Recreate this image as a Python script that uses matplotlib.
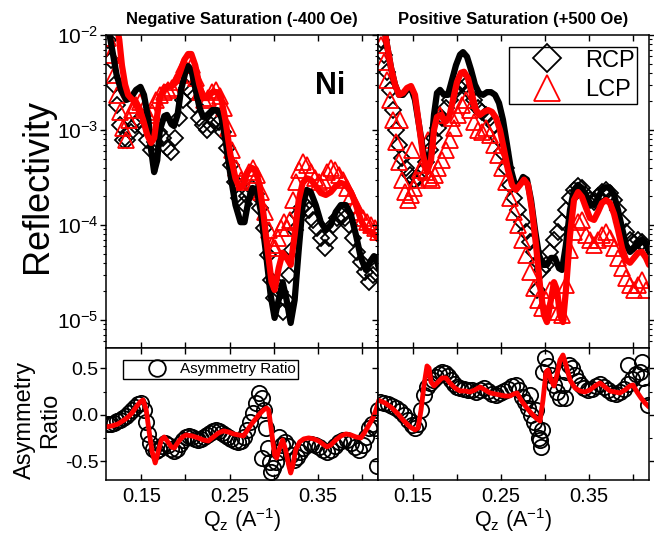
import numpy as np
import matplotlib
matplotlib.use("Agg")
from matplotlib import pyplot as plt
from matplotlib.lines import Line2D
from matplotlib.ticker import LogLocator, NullFormatter, FixedLocator

plt.rcParams['font.family'] = ['Liberation Sans', 'DejaVu Sans']
plt.rcParams['mathtext.fontset'] = 'custom'
plt.rcParams['mathtext.rm'] = 'Liberation Sans'
plt.rcParams['mathtext.it'] = 'Liberation Sans:italic'

#------------------------------------------------------------------------------
# Data (q in A^-1, reflectivity, asymmetry ratio)
#------------------------------------------------------------------------------
# negative saturation: fits
neg_rcp_fit = [(0.113, 1.13e-2), (0.118, 6.2e-3), (0.122, 3.8e-3), (0.127, 2.64e-3), (0.133, 2.07e-3),
               (0.138, 2.17e-3), (0.144, 2.64e-3), (0.149, 2.84e-3), (0.153, 2.34e-3), (0.158, 1.28e-3),
               (0.161, 6.2e-4), (0.1645, 3.6e-4), (0.168, 4.8e-4), (0.171, 1.0e-3), (0.176, 1.4e-3),
               (0.179, 1.44e-3), (0.184, 1.15e-3), (0.187, 1.1e-3), (0.191, 1.44e-3), (0.195, 2.64e-3),
               (0.200, 4.1e-3), (0.203, 4.7e-3), (0.2066, 4.3e-3), (0.211, 2.77e-3), (0.216, 1.7e-3),
               (0.220, 1.37e-3), (0.2248, 1.44e-3), (0.2305, 1.62e-3), (0.236, 1.62e-3), (0.2407, 1.34e-3),
               (0.2452, 7.85e-4), (0.2509, 3.36e-4), (0.2566, 1.62e-4), (0.2623, 1.07e-4), (0.2668, 1.07e-4),
               (0.2714, 1.83e-4), (0.2759, 2.45e-4), (0.2805, 2.34e-4), (0.285, 1.44e-4), (0.2907, 5.45e-5),
               (0.2964, 1.83e-5), (0.3009, 1.05e-5), (0.3055, 1.62e-5), (0.31, 2.5e-5), (0.3145, 1.62e-5),
               (0.3191, 9.3e-6), (0.3236, 1.62e-5), (0.3282, 5.45e-5), (0.3327, 1.62e-4), (0.3373, 2.34e-4),
               (0.3418, 2.22e-4), (0.3475, 1.62e-4), (0.3532, 1.07e-4), (0.3589, 8.86e-5), (0.3645, 1.0e-4),
               (0.3702, 1.37e-4), (0.3759, 1.62e-4), (0.3816, 1.62e-4), (0.3873, 1.28e-4), (0.393, 7.85e-5),
               (0.3986, 4.5e-5), (0.4043, 3.36e-5), (0.4089, 4.1e-5), (0.4134, 4.7e-5), (0.4168, 4.1e-5),
               (0.4191, 3.5e-5)]
neg_lcp_fit = [(0.121, 1.44e-2), (0.125, 8.9e-3), (0.128, 4.8e-3), (0.1316, 3.0e-3), (0.135, 2.34e-3),
               (0.138, 2.17e-3), (0.143, 1.97e-3), (0.1475, 1.7e-3), (0.152, 1.28e-3), (0.1566, 8.9e-4),
               (0.161, 7.3e-4), (0.1645, 8.2e-4), (0.168, 1.44e-3), (0.171, 2.17e-3), (0.176, 2.77e-3),
               (0.1805, 2.9e-3), (0.185, 2.9e-3), (0.1895, 3.2e-3), (0.194, 4.1e-3), (0.1986, 5.45e-3),
               (0.203, 6.3e-3), (0.2066, 6.3e-3), (0.211, 4.8e-3), (0.2157, 3.0e-3), (0.220, 2.17e-3),
               (0.2248, 2.17e-3), (0.2305, 2.5e-3), (0.236, 2.5e-3), (0.2407, 2.07e-3), (0.2452, 1.28e-3),
               (0.2509, 5.45e-4), (0.2566, 3.1e-4), (0.2611, 2.45e-4), (0.2657, 2.64e-4), (0.2702, 3.6e-4),
               (0.2748, 4.0e-4), (0.2793, 3.8e-4), (0.2839, 2.64e-4), (0.2884, 1.28e-4), (0.293, 5.45e-5),
               (0.2975, 2.5e-5), (0.3009, 2.07e-5), (0.3055, 3.5e-5), (0.31, 5.1e-5), (0.3145, 4.5e-5),
               (0.3191, 3.8e-5), (0.3236, 7.85e-5), (0.3282, 1.83e-4), (0.3327, 2.77e-4), (0.3373, 3.1e-4),
               (0.3418, 3.0e-4), (0.3475, 2.57e-4), (0.3532, 2.17e-4), (0.3589, 2.07e-4), (0.3645, 2.22e-4),
               (0.3702, 2.57e-4), (0.3759, 2.77e-4), (0.3816, 2.64e-4), (0.3873, 2.22e-4), (0.393, 1.62e-4),
               (0.3986, 1.13e-4), (0.4043, 8.9e-5), (0.41, 8.4e-5), (0.4145, 7.85e-5), (0.4191, 6.95e-5)]

# negative saturation: measured
neg_rcp = [(0.112, 8.9e-3), (0.116, 5.45e-3), (0.119, 3.0e-3), (0.1225, 1.83e-3), (0.126, 1.13e-3),
           (0.129, 7.85e-4), (0.134, 7.85e-4), (0.138, 9.5e-4), (0.143, 1.13e-3), (0.1475, 1.28e-3),
           (0.152, 1.05e-3), (0.1566, 7.85e-4), (0.161, 6.2e-4), (0.1657, 7.5e-4), (0.170, 9.5e-4),
           (0.175, 8.2e-4), (0.179, 6.5e-4), (0.184, 5.9e-4), (0.188, 8.2e-4), (0.193, 1.34e-3),
           (0.1975, 2.07e-3), (0.202, 2.77e-3), (0.2066, 2.5e-3), (0.211, 1.83e-3), (0.2157, 1.34e-3),
           (0.220, 1.13e-3), (0.2248, 1.0e-3), (0.2293, 1.13e-3), (0.2339, 1.28e-3), (0.2384, 1.21e-3),
           (0.243, 9.5e-4), (0.2475, 6.5e-4), (0.252, 4.3e-4), (0.2566, 2.84e-4), (0.2611, 1.92e-4),
           (0.2657, 1.66e-4), (0.2702, 2.02e-4), (0.2748, 2.45e-4), (0.2793, 2.12e-4), (0.2839, 1.51e-4),
           (0.2884, 9.3e-5), (0.293, 4.8e-5), (0.2964, 2.64e-5), (0.2998, 1.7e-5), (0.3032, 2.34e-5),
           (0.3066, 1.97e-5), (0.31, 1.21e-5), (0.3134, 1.62e-5), (0.3168, 3.0e-5), (0.3202, 5.45e-5),
           (0.3236, 8.9e-5), (0.327, 1.28e-4), (0.3305, 1.51e-4), (0.335, 1.62e-4), (0.3395, 1.44e-4),
           (0.3441, 1.13e-4), (0.3486, 9.3e-5), (0.3532, 7.3e-5), (0.3577, 5.7e-5), (0.3623, 7.3e-5),
           (0.3668, 1.0e-4), (0.3714, 1.18e-4), (0.3759, 1.28e-4), (0.3805, 1.18e-4), (0.385, 1.0e-4),
           (0.3895, 7.3e-5), (0.3941, 5.2e-5), (0.3986, 4.1e-5), (0.4032, 3.2e-5), (0.4077, 2.5e-5),
           (0.4123, 3.0e-5), (0.4168, 3.5e-5)]
neg_lcp = [(0.112, 9.3e-3), (0.116, 6.2e-3), (0.119, 3.8e-3), (0.1225, 2.34e-3), (0.126, 1.55e-3),
           (0.129, 1.05e-3), (0.133, 7.85e-4), (0.136, 1.28e-3), (0.1395, 1.62e-3), (0.144, 1.83e-3),
           (0.1486, 1.97e-3), (0.153, 1.7e-3), (0.1577, 1.44e-3), (0.1623, 1.55e-3), (0.1668, 2.07e-3),
           (0.1714, 2.34e-3), (0.1759, 2.5e-3), (0.1805, 2.64e-3), (0.185, 2.77e-3), (0.1895, 3.2e-3),
           (0.1941, 3.8e-3), (0.1986, 4.8e-3), (0.2032, 5.45e-3), (0.2077, 4.8e-3), (0.2123, 3.5e-3),
           (0.2168, 2.5e-3), (0.2214, 2.07e-3), (0.2259, 2.17e-3), (0.2305, 2.5e-3), (0.235, 2.64e-3),
           (0.2395, 2.28e-3), (0.2441, 1.7e-3), (0.2486, 1.05e-3), (0.2532, 6.2e-4), (0.2577, 4.0e-4),
           (0.2623, 3.0e-4), (0.2668, 2.84e-4), (0.2714, 3.6e-4), (0.2759, 4.0e-4), (0.2805, 3.36e-4),
           (0.285, 2.22e-4), (0.2895, 1.37e-4), (0.2941, 8.9e-5), (0.2975, 6.2e-5), (0.3009, 5.7e-5),
           (0.3043, 7.3e-5), (0.3077, 9.3e-5), (0.3111, 1.07e-4), (0.3145, 9.3e-5), (0.318, 1.13e-4),
           (0.3214, 1.83e-4), (0.3248, 2.84e-4), (0.3282, 3.8e-4), (0.3327, 4.6e-4), (0.3373, 4.3e-4),
           (0.3418, 3.6e-4), (0.3464, 3.1e-4), (0.3509, 2.84e-4), (0.3555, 3.0e-4), (0.36, 3.6e-4),
           (0.3645, 4.0e-4), (0.3691, 3.8e-4), (0.3736, 3.36e-4), (0.3782, 3.0e-4), (0.3827, 2.45e-4),
           (0.3873, 2.02e-4), (0.3918, 1.62e-4), (0.3964, 1.37e-4), (0.4009, 1.18e-4), (0.4055, 1.07e-4),
           (0.41, 1.0e-4), (0.4145, 9.3e-5), (0.418, 8.4e-5)]

# positive saturation: fits
pos_rcp_fit = [(0.1157, 1.44e-2), (0.1202, 7.85e-3), (0.1248, 4.5e-3), (0.1293, 3.0e-3), (0.1339, 2.34e-3),
               (0.1384, 2.34e-3), (0.143, 2.64e-3), (0.1475, 2.77e-3), (0.152, 2.07e-3), (0.1566, 1.13e-3),
               (0.1611, 6.2e-4), (0.1657, 4.3e-4), (0.1702, 6.2e-4), (0.1736, 1.44e-3), (0.177, 2.45e-3),
               (0.1805, 2.64e-3), (0.185, 2.34e-3), (0.1895, 2.34e-3), (0.1941, 3.36e-3), (0.1986, 4.8e-3),
               (0.2032, 6.2e-3), (0.2066, 6.6e-3), (0.2111, 5.9e-3), (0.2157, 4.3e-3), (0.2202, 3.0e-3),
               (0.2248, 2.45e-3), (0.2293, 2.34e-3), (0.2339, 2.5e-3), (0.2384, 2.5e-3), (0.243, 2.34e-3),
               (0.2475, 1.92e-3), (0.252, 1.28e-3), (0.2566, 7.0e-4), (0.2611, 3.8e-4), (0.2657, 2.64e-4),
               (0.2702, 2.64e-4), (0.2748, 3.2e-4), (0.2793, 3.0e-4), (0.2839, 1.83e-4), (0.2884, 8.9e-5),
               (0.293, 4.8e-5), (0.2975, 3.8e-5), (0.302, 3.8e-5), (0.3066, 4.5e-5), (0.3111, 4.5e-5),
               (0.3157, 3.5e-5), (0.3191, 3.36e-5), (0.3236, 6.2e-5), (0.3282, 1.44e-4), (0.3327, 2.34e-4),
               (0.3373, 2.64e-4), (0.3418, 2.45e-4), (0.3464, 2.07e-4), (0.3509, 1.7e-4), (0.3555, 1.62e-4),
               (0.36, 1.92e-4), (0.3645, 2.34e-4), (0.3691, 2.5e-4), (0.3736, 2.45e-4), (0.3782, 2.07e-4),
               (0.3827, 1.44e-4), (0.3873, 9.3e-5), (0.3918, 6.2e-5), (0.3964, 5.2e-5), (0.4009, 5.7e-5),
               (0.4055, 6.6e-5), (0.41, 7.0e-5), (0.4145, 6.2e-5), (0.418, 5.2e-5)]
pos_lcp_fit = [(0.1157, 1.44e-2), (0.1202, 7.85e-3), (0.1248, 4.5e-3), (0.1293, 3.0e-3), (0.1339, 2.34e-3),
               (0.1384, 2.45e-3), (0.143, 2.77e-3), (0.1475, 2.9e-3), (0.152, 2.34e-3), (0.1566, 1.13e-3),
               (0.1611, 5.45e-4), (0.1657, 3.6e-4), (0.1702, 4.8e-4), (0.1736, 1.0e-3), (0.177, 1.37e-3),
               (0.1816, 1.44e-3), (0.1861, 1.21e-3), (0.1907, 1.34e-3), (0.1952, 2.07e-3), (0.1998, 3.2e-3),
               (0.2043, 4.0e-3), (0.2077, 4.1e-3), (0.2123, 3.5e-3), (0.2168, 2.34e-3), (0.2214, 1.62e-3),
               (0.2259, 1.44e-3), (0.2305, 1.55e-3), (0.235, 1.62e-3), (0.2395, 1.55e-3), (0.2441, 1.34e-3),
               (0.2486, 1.0e-3), (0.2532, 6.2e-4), (0.2577, 3.8e-4), (0.2623, 2.64e-4), (0.2668, 2.34e-4),
               (0.2714, 2.64e-4), (0.2759, 3.0e-4), (0.2805, 2.64e-4), (0.285, 1.44e-4), (0.2895, 6.2e-5),
               (0.2941, 2.3e-5), (0.2986, 1.13e-5), (0.302, 9.5e-6), (0.3055, 1.44e-5), (0.31, 2.5e-5),
               (0.3134, 2.07e-5), (0.3168, 1.13e-5), (0.3202, 9.5e-6), (0.3236, 2.07e-5), (0.3282, 7.85e-5),
               (0.3327, 1.83e-4), (0.3373, 2.22e-4), (0.3418, 1.97e-4), (0.3464, 1.51e-4), (0.3509, 1.18e-4),
               (0.3555, 1.13e-4), (0.36, 1.37e-4), (0.3645, 1.7e-4), (0.3691, 1.83e-4), (0.3736, 1.7e-4),
               (0.3782, 1.31e-4), (0.3827, 8.9e-5), (0.3873, 5.7e-5), (0.3918, 4.3e-5), (0.3964, 4.0e-5),
               (0.4009, 4.5e-5), (0.4055, 5.1e-5), (0.41, 5.2e-5), (0.4145, 4.5e-5), (0.418, 3.8e-5)]

# positive saturation: measured
pos_rcp = [(0.1134, 8.9e-3), (0.1168, 6.2e-3), (0.1202, 4.1e-3), (0.1236, 2.64e-3), (0.127, 1.62e-3),
           (0.1305, 1.0e-3), (0.1339, 7.0e-4), (0.1373, 5.1e-4), (0.1418, 4.0e-4), (0.1464, 3.36e-4),
           (0.1509, 3.0e-4), (0.1555, 3.1e-4), (0.16, 3.6e-4), (0.1645, 4.6e-4), (0.1691, 6.2e-4),
           (0.1736, 8.2e-4), (0.1782, 1.05e-3), (0.1827, 1.34e-3), (0.1873, 1.7e-3), (0.1918, 2.07e-3),
           (0.1964, 2.5e-3), (0.2009, 2.9e-3), (0.2055, 3.2e-3), (0.21, 3.0e-3), (0.2145, 2.5e-3),
           (0.2191, 2.07e-3), (0.2236, 1.7e-3), (0.2282, 1.55e-3), (0.2327, 1.44e-3), (0.2373, 1.34e-3),
           (0.2418, 1.13e-3), (0.2464, 8.2e-4), (0.2509, 5.9e-4), (0.2555, 4.0e-4), (0.26, 2.64e-4),
           (0.2645, 1.92e-4), (0.2691, 1.44e-4), (0.2736, 1.07e-4), (0.2782, 8.4e-5), (0.2827, 6.6e-5),
           (0.2873, 5.2e-5), (0.2907, 2.07e-5), (0.2918, 4.1e-5), (0.2964, 3.36e-5), (0.3009, 3.8e-5),
           (0.3055, 5.2e-5), (0.31, 7.0e-5), (0.3145, 8.4e-5), (0.3191, 1.07e-4), (0.3236, 1.44e-4),
           (0.3282, 1.92e-4), (0.3327, 2.34e-4), (0.3373, 2.57e-4), (0.3418, 2.45e-4), (0.3464, 2.07e-4),
           (0.3509, 1.83e-4), (0.3555, 1.75e-4), (0.36, 2.02e-4), (0.3645, 2.22e-4), (0.3691, 2.34e-4),
           (0.3736, 2.17e-4), (0.3782, 1.83e-4), (0.3827, 1.44e-4), (0.3873, 1.07e-4), (0.3918, 8.4e-5),
           (0.3964, 7.0e-5), (0.4009, 6.5e-5), (0.4055, 7.0e-5), (0.41, 6.6e-5), (0.4145, 5.7e-5)]
pos_lcp = [(0.1134, 7.85e-3), (0.1168, 5.2e-3), (0.1202, 3.36e-3), (0.1236, 2.07e-3), (0.127, 1.28e-3),
           (0.1305, 7.5e-4), (0.1339, 4.6e-4), (0.135, 1.28e-3), (0.1373, 3.0e-4), (0.1407, 2.22e-4),
           (0.1441, 1.83e-4), (0.1475, 2.07e-4), (0.1486, 6.2e-4), (0.1509, 2.45e-4), (0.1543, 3.0e-4),
           (0.1577, 3.8e-4), (0.1611, 4.3e-4), (0.1645, 3.6e-4), (0.167, 7.85e-4), (0.168, 3.1e-4),
           (0.1714, 3.0e-4), (0.1748, 3.36e-4), (0.1782, 4.0e-4), (0.1805, 1.44e-3), (0.1827, 4.8e-4),
           (0.1873, 6.2e-4), (0.1918, 7.85e-4), (0.194, 1.34e-3), (0.1964, 1.05e-3), (0.2009, 1.44e-3),
           (0.2055, 1.83e-3), (0.21, 2.07e-3), (0.2145, 1.62e-3), (0.2191, 1.21e-3), (0.2236, 1.0e-3),
           (0.2282, 9.5e-4), (0.2327, 1.05e-3), (0.2373, 8.9e-4), (0.2418, 7.0e-4), (0.2464, 5.45e-4),
           (0.2509, 4.0e-4), (0.2555, 2.84e-4), (0.26, 1.92e-4), (0.2645, 1.37e-4), (0.2691, 1.0e-4),
           (0.2736, 7.0e-5), (0.2782, 4.8e-5), (0.2827, 3.2e-5), (0.2873, 2.17e-5), (0.2918, 1.62e-5),
           (0.2964, 1.34e-5), (0.3009, 1.62e-5), (0.3055, 2.07e-5), (0.31, 1.62e-5), (0.3145, 1.21e-5),
           (0.3191, 1.13e-5), (0.3236, 2.34e-5), (0.3282, 5.45e-5), (0.3327, 8.4e-5), (0.3373, 1.07e-4),
           (0.3418, 1.13e-4), (0.3464, 7.85e-5), (0.3509, 7.0e-5), (0.3555, 6.2e-5), (0.36, 7.0e-5),
           (0.3645, 7.85e-5), (0.3691, 8.4e-5), (0.3736, 7.3e-5), (0.3782, 5.7e-5), (0.3827, 4.5e-5),
           (0.3873, 3.5e-5), (0.3918, 2.77e-5), (0.3964, 2.34e-5), (0.4009, 2.07e-5), (0.4055, 2.34e-5),
           (0.41, 2.64e-5), (0.4145, 2.07e-5)]

# asymmetry ratio, negative saturation
neg_asym = [(0.112, -0.097), (0.1157, -0.097), (0.1191, -0.086), (0.1225, -0.065), (0.1259, -0.054),
            (0.1293, -0.032), (0.1327, -0.011), (0.1361, 0.022), (0.1395, 0.054), (0.143, 0.086),
            (0.1464, 0.118), (0.1498, 0.129), (0.1532, 0.054), (0.1555, -0.075), (0.1577, -0.204),
            (0.16, -0.301), (0.1634, -0.366), (0.1668, -0.387), (0.1702, -0.366), (0.1736, -0.333),
            (0.177, -0.301), (0.1805, -0.323), (0.1839, -0.366), (0.1873, -0.387), (0.1907, -0.366),
            (0.1941, -0.312), (0.1975, -0.269), (0.2009, -0.237), (0.2043, -0.226), (0.2077, -0.237),
            (0.2111, -0.258), (0.2145, -0.269), (0.218, -0.258), (0.2214, -0.237), (0.2248, -0.215),
            (0.2282, -0.194), (0.2316, -0.172), (0.235, -0.161), (0.2384, -0.172), (0.2418, -0.194),
            (0.2452, -0.215), (0.2486, -0.237), (0.252, -0.258), (0.2555, -0.28), (0.2589, -0.29),
            (0.2623, -0.28), (0.2657, -0.237), (0.2691, -0.161), (0.2725, -0.075), (0.2759, 0.022),
            (0.2793, 0.129), (0.2827, 0.237), (0.2861, 0.183), (0.2884, 0.054), (0.2907, -0.14),
            (0.293, -0.355), (0.2952, -0.505), (0.2986, -0.57), (0.302, -0.505), (0.3055, -0.398),
            (0.3089, -0.323), (0.3123, -0.29), (0.3157, -0.333), (0.3191, -0.43), (0.3225, -0.484),
            (0.3259, -0.452), (0.3293, -0.398), (0.3327, -0.355), (0.3373, -0.323), (0.3418, -0.312),
            (0.3464, -0.323), (0.3509, -0.344), (0.3555, -0.376), (0.36, -0.398), (0.3645, -0.376),
            (0.3691, -0.333), (0.3736, -0.29), (0.3782, -0.269), (0.3827, -0.269), (0.3873, -0.301),
            (0.3918, -0.344), (0.3964, -0.376), (0.4009, -0.323), (0.4043, -0.237), (0.4077, -0.14),
            (0.4111, -0.097), (0.4145, -0.14), (0.4168, -0.548), (0.418, 0.054), (0.2861, -0.462),
            (0.2964, -0.613), (0.3055, -0.237)]
neg_asym_fit = [(0.110, -0.129), (0.1168, -0.118), (0.1236, -0.097), (0.1305, -0.054), (0.135, -0.022),
                (0.1395, 0.022), (0.1441, 0.086), (0.1486, 0.14), (0.152, 0.161), (0.1555, 0.054),
                (0.1589, -0.183), (0.1623, -0.398), (0.1657, -0.516), (0.1691, -0.398), (0.1725, -0.269),
                (0.1759, -0.237), (0.1793, -0.28), (0.1839, -0.344), (0.1873, -0.355), (0.1918, -0.29),
                (0.1964, -0.237), (0.2009, -0.215), (0.2077, -0.226), (0.2145, -0.247), (0.2202, -0.269),
                (0.2259, -0.28), (0.2316, -0.237), (0.2373, -0.194), (0.243, -0.172), (0.2486, -0.183),
                (0.2543, -0.204), (0.26, -0.215), (0.2657, -0.226), (0.2702, -0.161), (0.2748, -0.097),
                (0.2793, -0.043), (0.2839, 0.011), (0.2884, 0.054), (0.2918, 0.075), (0.2941, 0.054),
                (0.2975, -0.183), (0.3009, -0.43), (0.3032, -0.462), (0.3066, -0.355), (0.31, -0.269),
                (0.3134, -0.376), (0.3168, -0.538), (0.3191, -0.624), (0.3214, -0.548), (0.3248, -0.376),
                (0.3293, -0.29), (0.3339, -0.258), (0.3395, -0.247), (0.3452, -0.258), (0.3509, -0.28),
                (0.3555, -0.312), (0.36, -0.344), (0.3645, -0.323), (0.3702, -0.269), (0.3759, -0.226),
                (0.3816, -0.204), (0.3873, -0.215), (0.393, -0.237), (0.3986, -0.247), (0.4032, -0.183),
                (0.4077, -0.108), (0.4123, -0.032), (0.4157, 0.054), (0.4191, 0.161)]

# asymmetry ratio, positive saturation
pos_asym = [(0.1123, 0.14), (0.1168, 0.129), (0.1214, 0.118), (0.1259, 0.097), (0.1305, 0.075),
            (0.135, 0.043), (0.1395, 0.0), (0.1441, -0.054), (0.1486, -0.108), (0.152, -0.14),
            (0.1555, -0.097), (0.1589, 0.054), (0.1623, 0.215), (0.1657, 0.301), (0.1691, 0.344),
            (0.1725, 0.376), (0.1759, 0.409), (0.1793, 0.441), (0.1827, 0.462), (0.1861, 0.452),
            (0.1895, 0.419), (0.193, 0.376), (0.1964, 0.333), (0.1998, 0.301), (0.2032, 0.29),
            (0.2077, 0.28), (0.2123, 0.269), (0.2168, 0.269), (0.2214, 0.247), (0.2259, 0.269),
            (0.2305, 0.29), (0.235, 0.258), (0.2395, 0.226), (0.2441, 0.215), (0.2486, 0.237),
            (0.2532, 0.258), (0.2577, 0.28), (0.2623, 0.312), (0.2668, 0.323), (0.2702, 0.269),
            (0.2736, 0.194), (0.277, 0.14), (0.2805, 0.075), (0.2839, 0.0), (0.2873, -0.075),
            (0.2907, -0.14), (0.293, -0.247), (0.2952, -0.344), (0.2964, -0.161), (0.2975, 0.462),
            (0.2998, 0.613), (0.3032, 0.527), (0.3066, 0.43), (0.31, 0.323), (0.3134, 0.247),
            (0.3168, 0.183), (0.3202, 0.323), (0.3236, 0.462), (0.327, 0.538), (0.3305, 0.505),
            (0.3339, 0.43), (0.3373, 0.366), (0.3407, 0.323), (0.3441, 0.29), (0.3486, 0.269),
            (0.3532, 0.28), (0.3577, 0.312), (0.3623, 0.333), (0.3668, 0.301), (0.3714, 0.269),
            (0.3759, 0.237), (0.3805, 0.226), (0.385, 0.247), (0.3895, 0.28), (0.3941, 0.333),
            (0.3986, 0.387), (0.4032, 0.441), (0.4077, 0.462), (0.4111, 0.398), (0.4145, 0.247),
            (0.4168, 0.108), (0.2827, 0.215), (0.2895, 0.054), (0.2941, -0.269), (0.3225, 0.183),
            (0.3941, 0.538), (0.41, 0.57)]
pos_asym_fit = [(0.110, 0.161), (0.118, 0.129), (0.1259, 0.075), (0.1327, 0.011), (0.1395, -0.065),
                (0.1464, -0.129), (0.152, -0.161), (0.1555, -0.14), (0.1589, 0.054), (0.1623, 0.323),
                (0.1657, 0.527), (0.168, 0.505), (0.1702, 0.355), (0.1736, 0.312), (0.1782, 0.355),
                (0.1827, 0.398), (0.1873, 0.398), (0.1918, 0.344), (0.1975, 0.29), (0.2032, 0.258),
                (0.2089, 0.258), (0.2145, 0.247), (0.2202, 0.269), (0.2259, 0.301), (0.2316, 0.269),
                (0.2373, 0.237), (0.243, 0.226), (0.2486, 0.215), (0.2543, 0.204), (0.26, 0.204),
                (0.2645, 0.226), (0.268, 0.237), (0.2725, 0.161), (0.2782, 0.086), (0.2839, 0.022),
                (0.2895, -0.032), (0.2941, -0.065), (0.2975, 0.161), (0.3009, 0.462), (0.3032, 0.484),
                (0.3066, 0.376), (0.31, 0.312), (0.3134, 0.43), (0.3168, 0.591), (0.3202, 0.645),
                (0.3236, 0.538), (0.3282, 0.376), (0.3339, 0.29), (0.3395, 0.258), (0.3452, 0.247),
                (0.3509, 0.269), (0.3566, 0.312), (0.3623, 0.344), (0.368, 0.301), (0.3736, 0.258),
                (0.3793, 0.247), (0.385, 0.237), (0.3907, 0.269), (0.3964, 0.312), (0.3998, 0.323),
                (0.4043, 0.247), (0.4089, 0.183), (0.4134, 0.129), (0.418, 0.086)]

titles = ['Negative Saturation (-400 Oe)', 'Positive Saturation (+500 Oe)']
xticks = [0.15, 0.20, 0.25, 0.30, 0.35, 0.40]
xtick_labels = ['0.15', '', '0.25', '', '0.35', '']

#------------------------------------------------------------------------------
# Plot
#------------------------------------------------------------------------------
fig = plt.figure(figsize=(6.54, 5.37), dpi=100)
top_l = fig.add_axes([0.1621, 0.3520, 0.4159, 0.5829])
top_r = fig.add_axes([0.5780, 0.3520, 0.4144, 0.5829])
bot_l = fig.add_axes([0.1621, 0.1061, 0.4159, 0.2458])
bot_r = fig.add_axes([0.5780, 0.1061, 0.4144, 0.2458])

ms_kw = dict(linestyle='none', markerfacecolor='none', markeredgewidth=1.3)

for ax, rcp, lcp, rfit, lfit in [(top_l, neg_rcp, neg_lcp, neg_rcp_fit, neg_lcp_fit),
                                  (top_r, pos_rcp, pos_lcp, pos_rcp_fit, pos_lcp_fit)]:
  q, r = zip(*rcp)
  ax.plot(q, r, marker='D', markersize=8.5, markeredgecolor='black', **ms_kw)
  q, r = zip(*lcp)
  ax.plot(q, r, marker='^', markersize=12, markeredgecolor='red', **ms_kw)
  q, r = zip(*rfit)
  ax.plot(q, r, color='black', lw=4.5, solid_joinstyle='round', solid_capstyle='round')
  q, r = zip(*lfit)
  ax.plot(q, r, color='red', lw=4.5, solid_joinstyle='round', solid_capstyle='round')
  ax.set_yscale('log')
  ax.set_ylim(5.07e-6, 1e-2)
  ax.yaxis.set_major_locator(LogLocator(base=10, numticks=10))
  ax.yaxis.set_minor_locator(LogLocator(base=10, subs=np.arange(2, 10), numticks=10))
  ax.yaxis.set_minor_formatter(NullFormatter())

for ax, asym, afit in [(bot_l, neg_asym, neg_asym_fit), (bot_r, pos_asym, pos_asym_fit)]:
  q, a = zip(*asym)
  ax.plot(q, a, marker='o', markersize=11, markeredgecolor='black', **ms_kw)
  q, a = zip(*afit)
  ax.plot(q, a, color='red', lw=3.5, solid_joinstyle='round', solid_capstyle='round')
  ax.set_ylim(-0.70, 0.72)
  ax.set_yticks([-0.5, 0.0, 0.5])
  ax.set_yticklabels(['-0.5', '0.0', '0.5'])
  ax.yaxis.set_minor_locator(FixedLocator([-0.25, 0.25]))
  ax.set_xlabel('Q$_\\mathrm{z}$ (A$^{-1}$)', fontsize=15.5, labelpad=0)

for ax in [top_l, top_r, bot_l, bot_r]:
  ax.set_xlim(0.11, 0.418)
  ax.set_xticks(xticks)
  ax.set_xticklabels(xtick_labels)
  ax.tick_params(axis='x', which='both', direction='in', top=True, length=4, width=1, pad=5,
                 labelsize=14.5)
  ax.tick_params(axis='y', which='major', direction='out', right=True, length=4, width=1,
                 pad=1.5, labelsize=14)
  ax.tick_params(axis='y', which='minor', direction='out', right=True, length=2.5, width=0.8)
  for s in ax.spines.values():
    s.set_linewidth(1.1)

for ax in [top_l, top_r]:
  ax.tick_params(axis='x', labelbottom=False)
  ax.tick_params(axis='y', which='major', labelsize=15)
for ax in [top_r, bot_r]:
  ax.tick_params(axis='y', which='both', labelleft=False)

top_l.set_title(titles[0], fontsize=12, fontweight='bold', pad=8)
top_r.set_title(titles[1], fontsize=12, fontweight='bold', pad=8)

top_l.text(0.824, 0.837, 'Ni', transform=top_l.transAxes, fontsize=22, fontweight='bold',
           ha='center', va='center')

fig.text(0.057, 0.654, 'Reflectivity', rotation=90, fontsize=26, ha='center', va='center')
fig.text(0.057, 0.218, 'Asymmetry\nRatio', rotation=90, fontsize=17, ha='center', va='center',
         linespacing=1.2)

# legends
h_rcp = Line2D([], [], marker='D', markersize=14, markeredgecolor='black', **ms_kw)
h_lcp = Line2D([], [], marker='^', markersize=19, markeredgecolor='red', **ms_kw)
leg = top_r.legend([h_rcp, h_lcp], ['RCP', 'LCP'], loc='upper right', bbox_to_anchor=(0.956, 0.962),
                   borderaxespad=0, fontsize=17, frameon=True, fancybox=False, edgecolor='black',
                   framealpha=1, handlelength=3.0, handletextpad=0.1, labelspacing=0.3,
                   borderpad=0.12)
leg.get_frame().set_linewidth(1.0)

h_asym = Line2D([], [], marker='o', markersize=12, markeredgecolor='black', **ms_kw)
leg2 = bot_l.legend([h_asym], ['Asymmetry Ratio'], loc='upper left', bbox_to_anchor=(0.0625, 0.909),
                    borderaxespad=0, fontsize=11, frameon=True, fancybox=False, edgecolor='black',
                    framealpha=1, handlelength=4.2, handletextpad=-0.6, borderpad=0.15)
leg2.get_frame().set_linewidth(1.0)

plt.gcf().savefig('out.png', dpi=100)
